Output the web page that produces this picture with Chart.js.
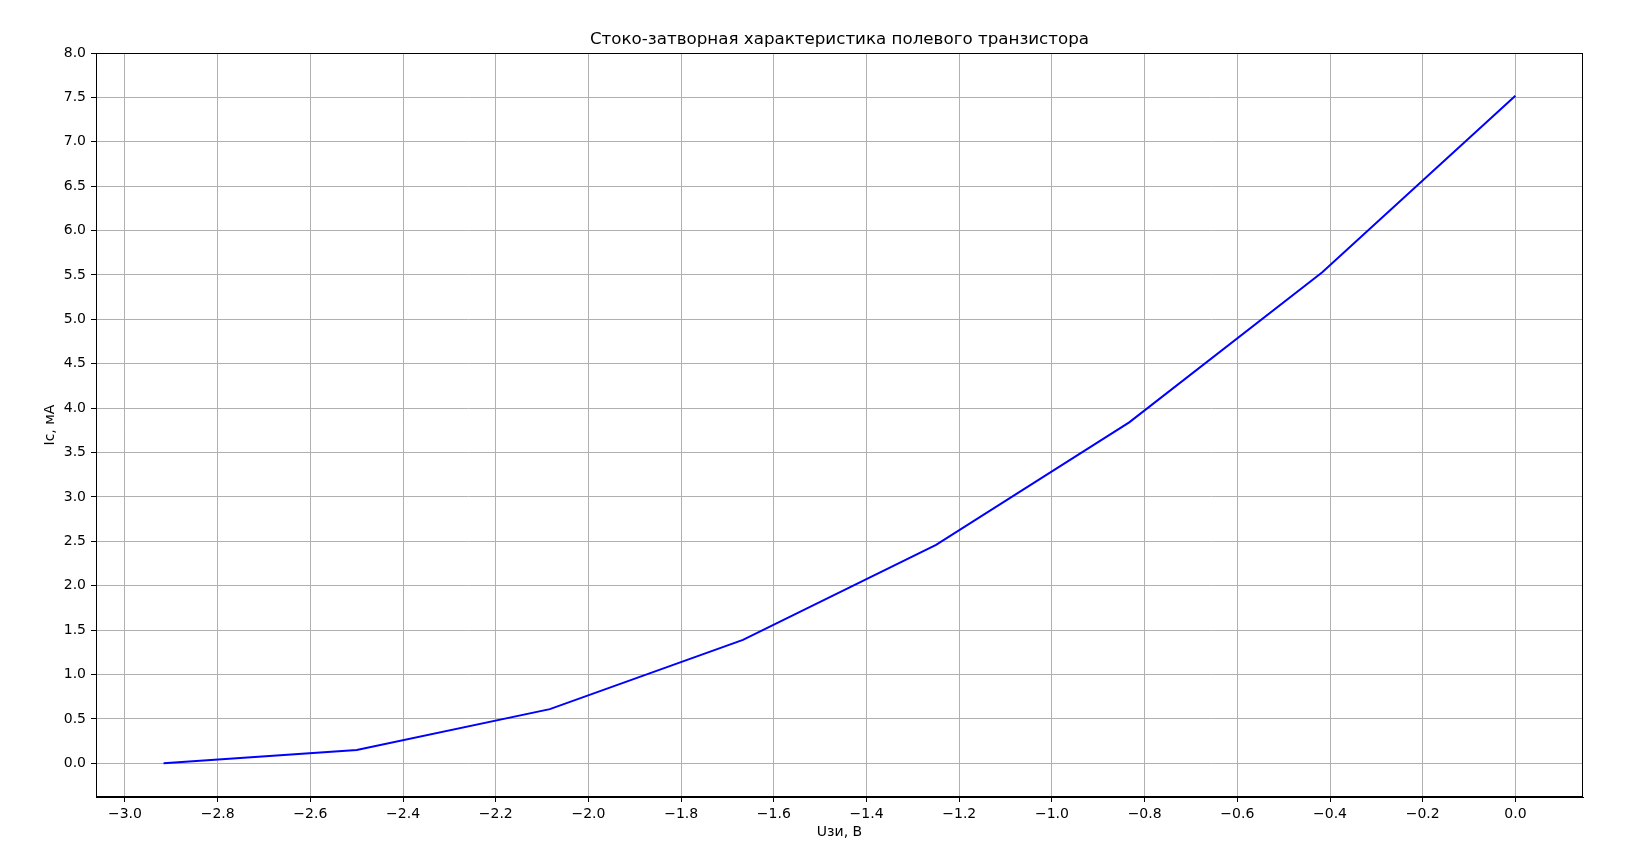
<!DOCTYPE html>
<html>
<head>
<meta charset="utf-8">
<script src="https://cdn.jsdelivr.net/npm/chart.js@4"></script>
<style>
  html, body { margin: 0; padding: 0; background: #fff; }
  #wrap { width: 1644px; height: 851px; }
</style>
</head>
<body>
<div id="wrap"><canvas id="myChart"></canvas></div>
<script>
// gate-source voltage, V and drain current, mA
const uzi = [-2.9167, -2.5, -2.0833, -1.6667, -1.25, -0.8333, -0.4167, 0.0];
const ic = [0.0, 0.15, 0.61, 1.39, 2.46, 3.84, 5.53, 7.52];

const xTicks = [-3.0, -2.8, -2.6, -2.4, -2.2, -2.0, -1.8, -1.6, -1.4, -1.2, -1.0, -0.8, -0.6, -0.4, -0.2, 0.0];
const yTicks = [0.0, 0.5, 1.0, 1.5, 2.0, 2.5, 3.0, 3.5, 4.0, 4.5, 5.0, 5.5, 6.0, 6.5, 7.0, 7.5, 8.0];

const titleText = 'Стоко-затворная характеристика полевого транзистора';
const xLabel = 'Uзи, В';
const yLabel = 'Ic, мА';

function fmt(v) {
    return v.toFixed(1).replace('-', '\u2212');
}

// matplotlib-like frame on all four sides
const frame = {
    id: 'frame',
    afterDraw(chart) {
        const a = chart.chartArea;
        const c = chart.ctx;
        c.save();
        c.strokeStyle = '#000';
        c.lineWidth = 1;
        c.strokeRect(Math.round(a.left) + 0.5, Math.round(a.top) + 0.5,
            Math.round(a.right - a.left) - 1, Math.round(a.bottom - a.top) - 1);
        c.restore();
    }
};

Chart.defaults.font.family = "'DejaVu Sans', sans-serif";
Chart.defaults.color = '#000';

const ctx = document.getElementById('myChart');
new Chart(ctx, {
    type: 'scatter',
    data: {
        datasets: [{
            data: uzi.map((u, i) => ({ x: u, y: ic[i] })),
            showLine: true,
            borderColor: '#0000ff',
            borderWidth: 2,
            pointRadius: 0,
            fill: false,
            tension: 0
        }]
    },
    options: {
        responsive: true,
        maintainAspectRatio: false,
        animation: false,
        layout: { padding: { left: 0, right: 61, top: 0, bottom: 0 } },
        plugins: {
            legend: { display: false },
            tooltip: { enabled: false },
            title: {
                display: true,
                text: titleText,
                fullSize: false,
                font: { size: 16.7, weight: 'normal' },
                padding: { top: 29.4, bottom: 3.6 }
            }
        },
        scales: {
            x: {
                type: 'linear',
                min: -3.0625,
                max: 0.1458,
                afterBuildTicks: s => { s.ticks = xTicks.map(v => ({ value: v })); },
                afterFit: s => { s.height = 54; },
                ticks: {
                    font: { size: 14 },
                    padding: 4,
                    maxRotation: 0,
                    autoSkip: false,
                    callback: v => fmt(v)
                },
                grid: { color: '#b0b0b0', lineWidth: 1, tickColor: '#000', tickLength: 5 },
                border: { color: '#000', width: 1 },
                title: {
                    display: true,
                    text: xLabel,
                    font: { size: 14 },
                    padding: { top: 0, bottom: 10 }
                }
            },
            y: {
                type: 'linear',
                min: -0.38,
                max: 8.0,
                afterBuildTicks: s => { s.ticks = yTicks.map(v => ({ value: v })); },
                afterFit: s => { s.width = 96; },
                ticks: {
                    font: { size: 14 },
                    padding: 5,
                    autoSkip: false,
                    callback: v => fmt(v)
                },
                grid: { color: '#b0b0b0', lineWidth: 1, tickColor: '#000', tickLength: 5 },
                border: { color: '#000', width: 1 },
                title: {
                    display: true,
                    text: yLabel,
                    font: { size: 14 },
                    padding: { top: 42, bottom: 0 }
                }
            }
        }
    },
    plugins: [frame]
});
</script>
</body>
</html>
